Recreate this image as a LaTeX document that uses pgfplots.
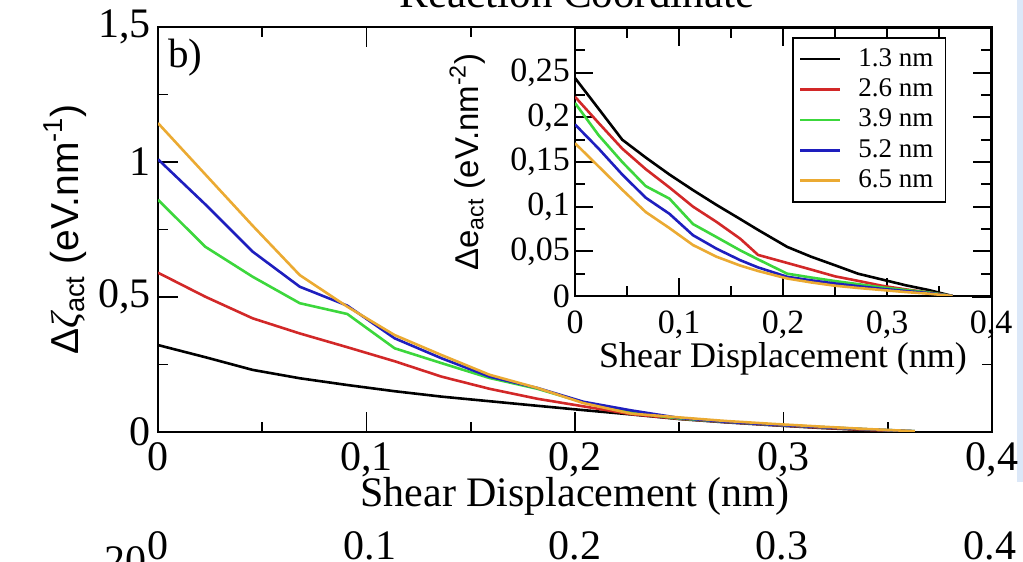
\documentclass[border=0pt]{standalone}
\usepackage{fontspec}
\setmainfont{Liberation Serif}
\setsansfont{Liberation Sans}
\usepackage{pgfplots}
\pgfplotsset{compat=1.18}
\usepackage{pgfplotstable}

\definecolor{cred}{RGB}{210,40,40}
\definecolor{cgreen}{RGB}{60,215,60}
\definecolor{cblue}{RGB}{30,30,190}
\definecolor{corange}{RGB}{235,170,50}
\definecolor{cstrip}{RGB}{220,232,248}

\pgfplotstableread{
x       black  red    green  blue   orange
0       0.322  0.590  0.860  1.010  1.144
0.0227  0.277  0.501  0.686  0.843  0.954
0.0454  0.230  0.421  0.575  0.668  0.764
0.068   0.199  0.365  0.477  0.538  0.581
0.0908  0.174  0.314  0.437  0.468  0.464
0.1135  0.151  0.262  0.310  0.347  0.359
0.136   0.131  0.205  0.255  0.273  0.285
0.159   0.114  0.160  0.200  0.205  0.212
0.182   0.097  0.123  0.160  0.163  0.163
0.204   0.081  0.095  0.110  0.112  0.107
0.227   0.065  0.066  0.072  0.080  0.068
0.25    0.048  0.049  0.050  0.052  0.054
0.272   0.036  0.037  0.038  0.038  0.041
0.295   0.025  0.026  0.027  0.027  0.030
0.318   0.015  0.016  0.018  0.018  0.020
0.340   0.007  0.008  0.010  0.010  0.011
0.363   0.001  0.002  0.003  0.003  0.003
}\maindata

\pgfplotstableread{
x       black   red     green   blue    orange
0       0.244   0.223   0.216   0.192   0.171
0.0227  0.2096  0.1937  0.1800  0.1650  0.1450
0.0454  0.1750  0.1650  0.1500  0.1360  0.1190
0.068   0.1550  0.1420  0.1230  0.1100  0.0940
0.0908  0.1360  0.1215  0.1090  0.0920  0.0760
0.1135  0.1185  0.1000  0.0805  0.0680  0.0570
0.136   0.1020  0.0830  0.0660  0.0530  0.0440
0.159   0.0860  0.0640  0.0510  0.0400  0.0340
0.176   0.0740  0.0460  0.0410  0.0320  0.0280
0.204   0.0550  0.0370  0.0250  0.0215  0.0196
0.227   0.0440  0.0296  0.0207  0.0175  0.0152
0.25    0.0344  0.0220  0.0167  0.0140  0.0115
0.272   0.0250  0.0170  0.0133  0.0110  0.0090
0.295   0.0185  0.0115  0.0096  0.0080  0.0067
0.318   0.0120  0.0074  0.0067  0.0055  0.0044
0.340   0.0067  0.0040  0.0040  0.0033  0.0026
0.363   0.0000  0.0000  0.0000  0.0000  0.0000
}\insetdata

\begin{document}
\begin{tikzpicture}
\useasboundingbox (0pt,0pt) rectangle (511.5pt,281pt);
\fill[cstrip] (508.5pt,40pt) rectangle (511.5pt,281pt);

% title of the panel above (cut off)
\node[anchor=base, font=\fontsize{21.5}{24}\selectfont, inner sep=0pt] at (288.5pt,277.25pt) {Reaction Coordinate};

% main axis
\begin{axis}[
  at={(79pt,65pt)}, anchor=south west,
  scale only axis, width=417pt, height=202.5pt,
  xmin=0, xmax=0.4, ymin=0, ymax=1.5,
  xtick={0,0.1,0.2,0.3,0.4},
  xticklabels={0,{0,1},{0,2},{0,3},{0,4}},
  minor xtick={0.05,0.15,0.25,0.35},
  ytick={0,0.5,1,1.5},
  yticklabels={0,{0,5},1,{1,5}},
  minor ytick={0.25,0.75,1.25},
  tick align=inside,
  major tick length=10pt, minor tick length=5pt,
  every tick/.style={black, line width=0.9pt},
  axis line style={line width=1.2pt},
  ticklabel style={font=\fontsize{21}{21}\selectfont},
  xticklabel style={yshift=-2pt},
  xlabel={Shear Displacement (nm)},
  xlabel style={at={(axis description cs:0.5,-0.185)}, anchor=base, font=\fontsize{21}{24}\selectfont, inner sep=0pt},
  ylabel={\sffamily Δ{\rmfamily\itshape ζ}\textsubscript{act} (eV.nm\textsuperscript{-1})},
  ylabel style={at={(axis description cs:-0.0959,0.5)}, anchor=base, font=\fontsize{19.5}{24}\selectfont, inner sep=0pt},
]
\addplot[black, line width=1.3pt] table[x=x, y=black] {\maindata};
\addplot[cred, line width=1.3pt] table[x=x, y=red] {\maindata};
\addplot[cgreen, line width=1.3pt] table[x=x, y=green] {\maindata};
\addplot[cblue, line width=1.3pt] table[x=x, y=blue] {\maindata};
\addplot[corange, line width=1.3pt] table[x=x, y=orange] {\maindata};
\end{axis}

\node[anchor=base west, font=\fontsize{20.5}{24}\selectfont, inner sep=0pt] at (84pt,247pt) {b)};

% inset
\begin{axis}[
  at={(287.5pt,133pt)}, anchor=south west,
  scale only axis, width=208pt, height=134pt,
  axis background/.style={fill=white},
  xmin=0, xmax=0.4, ymin=0, ymax=0.3,
  xtick={0,0.1,0.2,0.3,0.4},
  xticklabels={0,{0,1},{0,2},{0,3},{0,4}},
  minor xtick={0.05,0.15,0.25,0.35},
  ytick={0,0.05,0.1,0.15,0.2,0.25},
  yticklabels={0,{0,05},{0,1},{0,15},{0,2},{0,25}},
  minor ytick={0.025,0.075,0.125,0.175,0.225,0.275},
  tick align=inside,
  major tick length=9pt, minor tick length=5pt,
  every tick/.style={black, line width=0.9pt},
  axis line style={line width=1.2pt},
  ticklabel style={font=\fontsize{17}{17}\selectfont},
  xticklabel style={yshift=-4pt},
  yticklabel style={xshift=1pt},
  xlabel={Shear Displacement (nm)},
  xlabel style={at={(axis description cs:0.5,-0.265)}, anchor=base, font=\fontsize{18}{20}\selectfont, inner sep=0pt},
  ylabel={\sffamily Δe\textsubscript{act} (eV.nm\textsuperscript{-2})},
  ylabel style={at={(axis description cs:-0.233,0.5)}, anchor=base, font=\fontsize{16.5}{20}\selectfont, inner sep=0pt},
  legend cell align=left,
  legend style={at={(0.5216,0.966)}, anchor=north west, draw=black, line width=0.8pt,
    font=\fontsize{13.5}{15}\selectfont, inner xsep=3pt, inner ysep=3pt, row sep=0pt, column sep=5.5pt,
    nodes={inner sep=1.6pt, inner xsep=3pt, text height=9.5pt, text depth=2.5pt}},
  every axis plot/.append style={legend image code/.code={\draw[##1, line width=1.3pt] (0pt,0pt) -- (20pt,0pt);}},
]
\addplot[black, line width=1.3pt] table[x=x, y=black] {\insetdata};
\addlegendentry{1.3 nm}
\addplot[cred, line width=1.3pt] table[x=x, y=red] {\insetdata};
\addlegendentry{2.6 nm}
\addplot[cgreen, line width=1.3pt] table[x=x, y=green] {\insetdata};
\addlegendentry{3.9 nm}
\addplot[cblue, line width=1.3pt] table[x=x, y=blue] {\insetdata};
\addlegendentry{5.2 nm}
\addplot[corange, line width=1.3pt] table[x=x, y=orange] {\insetdata};
\addlegendentry{6.5 nm}
\end{axis}

% tick labels of the panel below (cut off)
\begin{scope}[font=\fontsize{21}{24}\selectfont]
\node[anchor=base, inner sep=0pt] at (79pt,1pt) {0};
\node[anchor=base, inner sep=0pt] at (185pt,1pt) {0.1};
\node[anchor=base, inner sep=0pt] at (287.5pt,1pt) {0.2};
\node[anchor=base, inner sep=0pt] at (391pt,1pt) {0.3};
\node[anchor=base, inner sep=0pt] at (495pt,1pt) {0.4};
\node[anchor=base east, inner sep=0pt] at (73.5pt,-6.5pt) {20};
\end{scope}
\end{tikzpicture}
\end{document}
